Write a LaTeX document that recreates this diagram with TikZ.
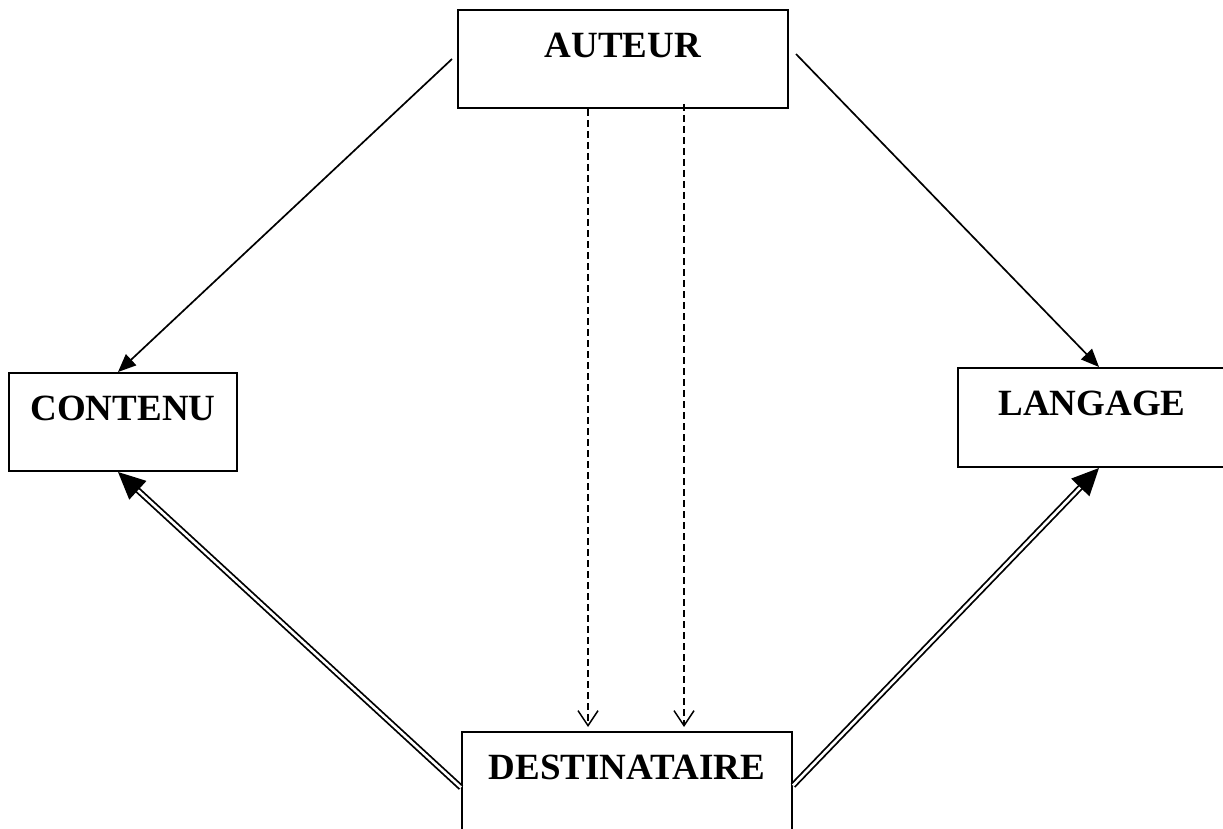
\documentclass[tikz,border=0pt]{standalone}
\usepackage{fontspec}
\setmainfont{Liberation Serif}
\usetikzlibrary{arrows.meta}
\tikzset{
  boxnode/.style={draw, line width=2pt, inner xsep=0pt, inner ysep=0pt,
    font=\fontsize{37}{40}\selectfont\bfseries, text height=47pt, anchor=base},
  plainarrow/.style={line width=1.7pt, -{Triangle[length=18pt,width=15pt]}},
  dasharrow/.style={line width=1.5pt, dash pattern=on 7pt off 4pt,
    -{Straight Barb[length=15pt,width=20pt,line width=1.5pt]}},
  dblarrow/.style={double, double distance=2.6pt, line width=1.8pt,
    -{Triangle[length=27pt,width=25pt]}}
}
\begin{document}
\begin{tikzpicture}[x=1pt,y=-1pt]
\useasboundingbox (0,0) rectangle (1223,829);
\clip (0,0) rectangle (1223,829);
\node[boxnode, minimum width=330pt, text height=48pt, text depth=50pt] (auteur) at (623,58) {AUTEUR};
\node[boxnode, minimum width=228pt, text depth=51pt] (contenu) at (123,420) {CONTENU};
\node[boxnode, minimum width=268pt, text depth=52pt] (langage) at (1092,415) {LANGAGE};
\node[boxnode, minimum width=330pt, text depth=70pt] (destinataire) at (627,779) {DESTINATAIRE};

\draw[plainarrow] ([xshift=-5pt]auteur.west) -- ([xshift=-5pt]contenu.north);
\draw[plainarrow] ([xshift=7pt,yshift=5pt]auteur.east) -- ([xshift=7pt]langage.north);

\draw[dasharrow] ([xshift=-35pt]auteur.south) -- ([xshift=-39pt,yshift=4pt]destinataire.north);
\draw[dasharrow] ([xshift=61pt,yshift=5pt]auteur.south) -- ([xshift=57pt,yshift=4pt]destinataire.north);

\draw[dblarrow] ([yshift=3pt]destinataire.west) -- ([xshift=-5pt]contenu.south);
\draw[dblarrow] ([yshift=5pt]destinataire.east) -- ([xshift=7pt]langage.south);
\end{tikzpicture}
\end{document}
